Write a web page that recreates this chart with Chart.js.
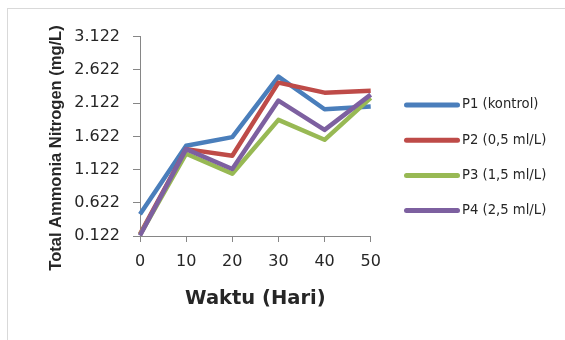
<!DOCTYPE html>
<html>
<head>
<meta charset="utf-8">
<script src="https://cdn.jsdelivr.net/npm/chart.js@4/dist/chart.umd.min.js"></script>
<style>
  html, body { margin: 0; padding: 0; background: #ffffff; }
  #wrap { position: relative; width: 565px; height: 340px; overflow: hidden; background: #ffffff; }
  #frame { position: absolute; left: 7px; top: 8px; width: 640px; height: 420px;
           border-left: 1px solid #d9d9d9; border-top: 1px solid #d9d9d9; }
  #c { position: absolute; left: 0; top: 0; }
</style>
</head>
<body>
<div id="wrap">
  <div id="frame"></div>
  <canvas id="c" width="565" height="340"></canvas>
</div>
<script>
// Sampling days
const days = ['0', '10', '20', '30', '40', '50'];

// Total ammonia nitrogen (mg/L) per treatment
const p1 = [0.45, 1.48, 1.61, 2.52, 2.03, 2.07];
const p2 = [0.15, 1.43, 1.33, 2.43, 2.28, 2.31];
const p3 = [0.14, 1.36, 1.06, 1.87, 1.57, 2.20];
const p4 = [0.13, 1.43, 1.13, 2.16, 1.72, 2.25];

const seriesNames = ['P1 (kontrol)', 'P2 (0,5 ml/L)', 'P3 (1,5 ml/L)', 'P4 (2,5 ml/L)'];
const seriesColors = ['#4A7EBB', '#BE4B48', '#98B954', '#7D60A0'];

// Value axis tick labels
const yTicks = [0.122, 0.622, 1.122, 1.622, 2.122, 2.622, 3.122];

const xTitle = 'Waktu (Hari)';
const yTitle = 'Total Ammonia Nitrogen (mg/L)';

const textColor = '#262626';
const axisColor = '#868686';

const seriesValues = [p1, p2, p3, p4];

// Rotated value-axis title, placed beside the tick labels
const yTitlePlugin = {
  id: 'yTitle',
  afterDraw(chart) {
    const ctx = chart.ctx;
    ctx.save();
    ctx.translate(60.5, 148);
    ctx.rotate(-Math.PI / 2);
    ctx.font = 'bold 16.5px "Liberation Sans", Arial, sans-serif';
    ctx.fillStyle = textColor;
    ctx.textAlign = 'center';
    ctx.textBaseline = 'alphabetic';
    ctx.fillText(yTitle, 0, 0);
    ctx.restore();
  }
};

// Legend list on the right: a short line sample and the series name
const sideLegend = {
  id: 'sideLegend',
  afterDraw(chart) {
    const ctx = chart.ctx;
    ctx.save();
    chart.data.datasets.forEach((ds, i) => {
      const y = 105 + i * 35.2;
      ctx.strokeStyle = ds.borderColor;
      ctx.lineWidth = 5;
      ctx.lineCap = 'round';
      ctx.beginPath();
      ctx.moveTo(406.5, y);
      ctx.lineTo(457.5, y);
      ctx.stroke();
      ctx.fillStyle = textColor;
      ctx.font = '13.2px "DejaVu Sans", sans-serif';
      ctx.textAlign = 'left';
      ctx.textBaseline = 'middle';
      ctx.fillText(ds.label, 462, y);
    });
    ctx.restore();
  }
};

new Chart(document.getElementById('c'), {
  type: 'line',
  data: {
    labels: days,
    datasets: seriesValues.map((vals, i) => ({
      label: seriesNames[i],
      data: vals,
      borderColor: seriesColors[i],
      backgroundColor: seriesColors[i],
      borderWidth: 4.5,
      pointRadius: 0,
      pointHoverRadius: 0,
      tension: 0,
      fill: false,
      borderJoinStyle: 'round',
      borderCapStyle: 'butt',
      order: seriesValues.length - i
    }))
  },
  options: {
    responsive: false,
    animation: false,
    devicePixelRatio: 1,
    layout: { padding: { left: 0, right: 194.3, top: 36.7, bottom: 0 } },
    plugins: {
      legend: { display: false },
      tooltip: { enabled: false },
      title: { display: false }
    },
    scales: {
      x: {
        type: 'category',
        offset: false,
        grid: { display: true, drawOnChartArea: false, drawTicks: true, tickLength: 6, color: axisColor, offset: false },
        border: { display: true, color: axisColor, width: 1 },
        ticks: {
          color: textColor,
          font: { family: '"DejaVu Sans", sans-serif', size: 16 },
          padding: 10,
          maxRotation: 0,
          autoSkip: false
        },
        title: {
          display: true,
          text: xTitle,
          color: textColor,
          font: { family: '"DejaVu Sans", sans-serif', size: 19.5, weight: 'bold' },
          padding: { top: 0, bottom: 29.3 }
        },
        afterFit(scale) { scale.height = 104; }
      },
      y: {
        type: 'linear',
        min: yTicks[0],
        max: yTicks[yTicks.length - 1],
        grid: { display: true, drawOnChartArea: false, drawTicks: true, tickLength: 7, color: axisColor },
        border: { display: true, color: axisColor, width: 1 },
        ticks: {
          color: textColor,
          font: { family: '"DejaVu Sans", sans-serif', size: 16 },
          padding: 13,
          callback: (v) => Number(v).toFixed(3)
        },
        afterBuildTicks(scale) {
          scale.ticks = yTicks.map(v => ({ value: v }));
        },
        afterFit(scale) { scale.width = 140; }
      }
    }
  },
  plugins: [yTitlePlugin, sideLegend]
});
</script>
</body>
</html>
